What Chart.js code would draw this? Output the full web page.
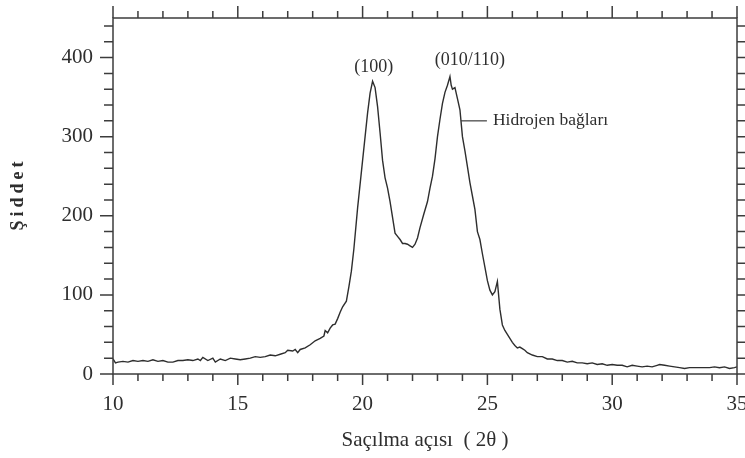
<!DOCTYPE html>
<html>
<head>
<meta charset="utf-8">
<script src="https://cdn.jsdelivr.net/npm/chart.js@4.4.1/dist/chart.umd.min.js"></script>
<style>
  html, body { margin: 0; padding: 0; background: #fff; }
  canvas { display: block; }
</style>
</head>
<body>
<canvas id="xrd" width="745" height="458"></canvas>
<script>
// okunan değerler (2θ, şiddet)
const angles = [
  10.0, 10.1, 10.2, 10.4, 10.6, 10.8, 11.0, 11.2, 11.4, 11.6, 11.8, 12.0, 12.2, 12.4, 12.6, 12.8,
  13.0, 13.2, 13.4, 13.5, 13.6, 13.8, 14.0, 14.1, 14.3, 14.5, 14.7, 14.9, 15.1, 15.3, 15.5, 15.7,
  15.9, 16.1, 16.3, 16.5, 16.7, 16.9, 17.0, 17.2, 17.3, 17.4, 17.5, 17.7, 17.9, 18.1, 18.3, 18.45,
  18.5, 18.6, 18.7, 18.8, 18.9, 19.0, 19.1, 19.2, 19.35, 19.45, 19.55, 19.65, 19.8, 19.96, 20.1, 20.2,
  20.3, 20.4, 20.5, 20.6, 20.7, 20.8, 20.9, 21.0, 21.1, 21.2, 21.3, 21.4, 21.5, 21.6, 21.7, 21.8,
  21.9, 22.0, 22.1, 22.2, 22.3, 22.45, 22.6, 22.7, 22.8, 22.9, 23.0, 23.1, 23.2, 23.3, 23.4, 23.5,
  23.55, 23.6, 23.7, 23.8, 23.9, 24.0, 24.1, 24.2, 24.3, 24.4, 24.5, 24.6, 24.7, 24.8, 24.9, 25.0,
  25.1, 25.2, 25.3, 25.4, 25.5, 25.6, 25.7, 25.8, 25.9, 26.0, 26.1, 26.2, 26.3, 26.4, 26.5, 26.6,
  26.8, 27.0, 27.2, 27.4, 27.6, 27.8, 28.0, 28.2, 28.4, 28.6, 28.8, 29.0, 29.2, 29.4, 29.6, 29.8,
  30.0, 30.2, 30.4, 30.6, 30.8, 31.0, 31.2, 31.4, 31.6, 31.8, 31.9, 32.1, 32.3, 32.5, 32.7, 32.9,
  33.1, 33.3, 33.5, 33.7, 33.9, 34.1, 34.3, 34.5, 34.7, 34.9, 35.0
];
const intensity = [
  19, 14, 15, 16, 15, 17, 16, 17, 16, 18, 16, 17, 15, 15, 17, 17,
  18, 17, 19, 17, 21, 17, 20, 15, 19, 17, 20, 19, 18, 19, 20, 22,
  21, 22, 24, 23, 25, 27, 30, 29, 31, 27, 31, 33, 37, 42, 45, 48,
  55, 52, 58, 62, 63, 70, 78, 85, 92, 110, 130, 158, 210, 258, 300, 330,
  355, 370, 362, 338, 305, 270, 248, 235, 218, 198, 178, 174, 170, 165, 165, 164,
  162, 160, 164, 172, 185, 202, 218, 235, 250, 272, 300, 322, 342, 356, 365, 376,
  365, 360, 362, 348, 334, 300, 282, 262, 242, 225, 208, 180, 170, 152, 135, 118,
  106, 100, 104, 117, 82, 62, 55, 50, 45, 40, 36, 33, 34, 32, 30, 27,
  24, 22, 22, 19, 19, 17, 17, 15, 16, 14, 14, 13, 14, 12, 13, 11,
  12, 11, 11, 9, 11, 10, 9, 10, 9, 11, 12, 11, 10, 9, 8, 7,
  8, 8, 8, 8, 8, 9, 8, 9, 7, 8, 9
];

const xMin = 10, xMax = 35, xMajor = 5, xMinor = 1;
const yMin = 0, yMax = 450, yMajor = 100, yMinor = 20;

// etiketler: [metin, 2θ, şiddet]
const peakLabels = [
  ["(100)", 20.45, 388],
  ["(010/110)", 24.3, 397]
];
const hbondLine = [23.94, 24.98, 320];
const hbondText = "Hidrojen bağları";

const ink = "#2e2e2e";
const serif = "'Liberation Serif', 'Times New Roman', serif";

const frame = {
  id: "frame",
  afterDraw(chart) {
    const { ctx, chartArea: a, scales: { x, y } } = chart;
    ctx.save();
    ctx.strokeStyle = "#3c3c3c";
    ctx.lineWidth = 1.5;
    ctx.strokeRect(a.left, a.top, a.right - a.left, a.bottom - a.top);

    ctx.beginPath();
    for (let v = xMin; v <= xMax; v += xMinor) {
      const px = x.getPixelForValue(v);
      const major = v % xMajor === 0;
      ctx.moveTo(px, a.bottom);
      ctx.lineTo(px, a.bottom + (major ? 11 : 7));
      ctx.moveTo(px, a.top);
      ctx.lineTo(px, a.top - (major ? 12 : 7));
    }
    for (let v = yMin; v < yMax; v += yMinor) {
      const py = y.getPixelForValue(v);
      const major = v % yMajor === 0;
      ctx.moveTo(a.left, py);
      ctx.lineTo(a.left - (major ? 13 : 9), py);
      ctx.moveTo(a.right, py);
      ctx.lineTo(a.right + (major ? 13 : 9), py);
    }
    ctx.stroke();

    // pik etiketleri
    ctx.fillStyle = ink;
    ctx.font = "18px " + serif;
    ctx.textAlign = "center";
    ctx.textBaseline = "middle";
    peakLabels.forEach(([t, vx, vy]) => {
      ctx.fillText(t, x.getPixelForValue(vx), y.getPixelForValue(vy));
    });

    // hidrojen bağları
    const ly = y.getPixelForValue(hbondLine[2]);
    ctx.lineWidth = 1.2;
    ctx.beginPath();
    ctx.moveTo(x.getPixelForValue(hbondLine[0]), ly);
    ctx.lineTo(x.getPixelForValue(hbondLine[1]), ly);
    ctx.stroke();
    ctx.textAlign = "left";
    ctx.font = "17.5px " + serif;
    ctx.fillText(hbondText, x.getPixelForValue(hbondLine[1]) + 6, ly);

    // y ekseni başlığı
    ctx.translate(18, (a.top + a.bottom) / 2);
    ctx.rotate(-Math.PI / 2);
    ctx.font = "bold 18px " + serif;
    ctx.letterSpacing = "4px";
    ctx.textAlign = "center";
    ctx.fillText("Şiddet", 2, 0);
    ctx.restore();
  }
};

new Chart(document.getElementById("xrd"), {
  type: "line",
  data: {
    datasets: [{
      data: angles.map((a, i) => ({ x: a, y: intensity[i] })),
      borderColor: ink,
      borderWidth: 1.4,
      pointRadius: 0,
      tension: 0,
      fill: false
    }]
  },
  options: {
    responsive: false,
    animation: false,
    layout: { padding: { top: 18, right: 8, left: 0, bottom: 0 } },
    plugins: { legend: { display: false }, tooltip: { enabled: false } },
    scales: {
      x: {
        type: "linear",
        min: xMin,
        max: xMax,
        grid: { display: false, drawTicks: false },
        border: { display: false },
        ticks: {
          stepSize: xMajor,
          padding: 18,
          color: ink,
          font: { family: serif, size: 21 },
          maxRotation: 0
        },
        title: {
          display: true,
          text: "Saçılma açısı  ( 2θ )",
          color: ink,
          font: { family: serif, size: 21 },
          padding: { top: 0, bottom: 5 }
        },
        afterFit(scale) {
          scale.height = 84;
          scale.paddingLeft = 0;
          scale.paddingRight = 0;
        }
      },
      y: {
        min: yMin,
        max: yMax,
        grid: { display: false, drawTicks: false },
        border: { display: false },
        ticks: {
          stepSize: yMajor,
          padding: 20,
          color: ink,
          font: { family: serif, size: 21 },
          callback: (v) => (v % yMajor === 0 ? v : "")
        },
        afterFit(scale) {
          scale.width = 113;
          scale.paddingTop = 0;
          scale.paddingBottom = 0;
        }
      }
    }
  },
  plugins: [frame]
});
</script>
</body>
</html>
